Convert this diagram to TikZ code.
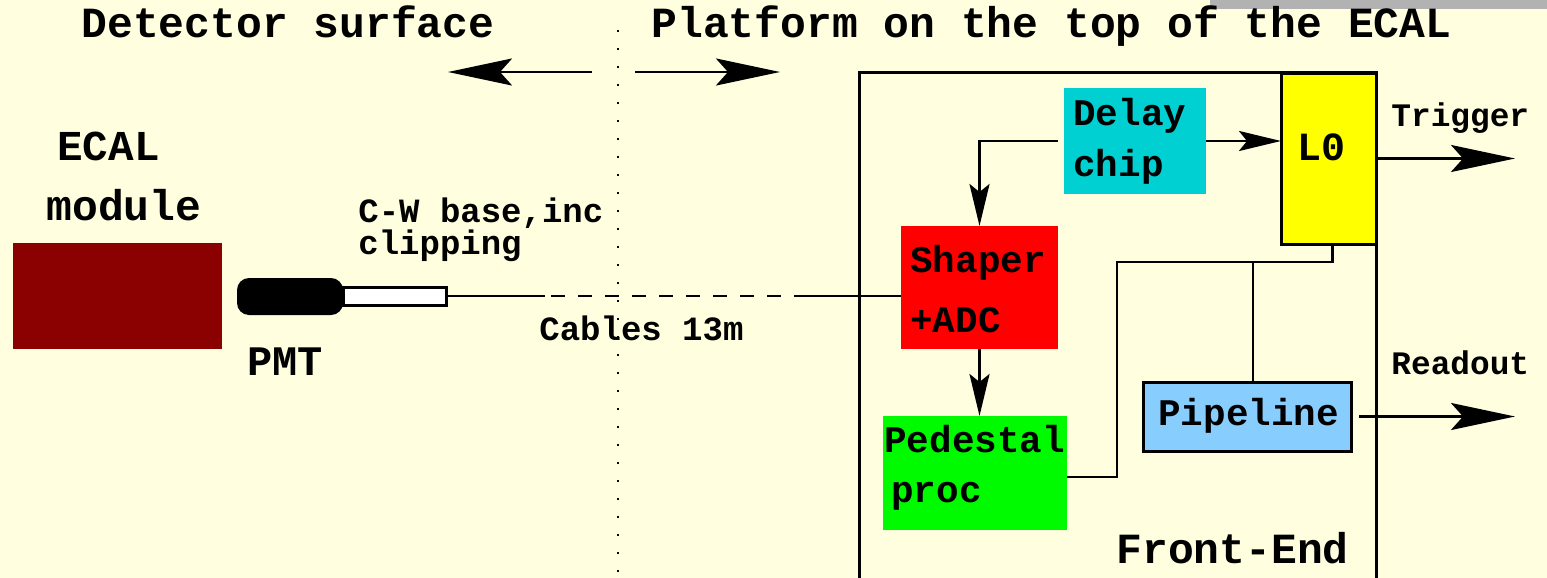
\documentclass[tikz,border=0pt]{standalone}
\usepackage{fontspec}
\setmonofont{Liberation Mono}
\usetikzlibrary{arrows.meta}
\definecolor{bg}{RGB}{255,255,224}
\definecolor{ecalred}{RGB}{139,0,0}
\definecolor{delaycol}{RGB}{0,208,210}
\definecolor{shapercol}{RGB}{255,0,0}
\definecolor{pedcol}{RGB}{0,250,0}
\definecolor{l0col}{RGB}{255,255,0}
\definecolor{pipecol}{RGB}{135,206,255}
\definecolor{barcol}{RGB}{178,178,178}
\tikzset{
  lbl/.style={font=\ttfamily\bfseries\fontsize{#1}{#1}\selectfont, inner sep=0pt, anchor=base west},
  fillbox/.style={draw=none, inner sep=0pt, outer sep=0pt},
  linebox/.style={draw=black, line width=1.5pt, inner sep=0pt, outer sep=0pt},
  wire/.style={line width=1.4pt, black},
  bigarrow/.style={wire, -{Stealth[length=32pt,width=13.5pt,inset=6pt]}},
  smallarrow/.style={wire, -{Stealth[length=21pt,width=10pt,inset=4pt]}},
}
\begin{document}
\begin{tikzpicture}[x=0.5pt,y=-0.5pt]
\clip (0,0) rectangle (1547,578);
\fill[bg] (0,0) rectangle (1547,578);
\fill[barcol] (1210,0) rectangle (1547,9);

% headings
\node[lbl=21.5] (hdet) at (81,38) {Detector surface};
\node[lbl=21.5] (hplat) at (651,38) {Platform on the top of the ECAL};

% dotted divider
\coordinate (d1) at (618,30);
\coordinate (d2) at (618,578);
\draw[line width=1pt, dash pattern=on 1pt off 8pt] (d1) -- (d2);

% direction arrows
\coordinate (a1) at (592,72);
\coordinate (a2) at (448,72);
\coordinate (b1) at (635,72);
\coordinate (b2) at (780,72);
\draw[bigarrow] (a1) -- (a2);
\draw[bigarrow] (b1) -- (b2);

% ECAL module
\node[fillbox, fill=ecalred, minimum width=104.5pt, minimum height=53pt] (ecal) at (117.5,296) {};
\node[lbl=21.3] (tecal) at (57,160) {ECAL};
\node[lbl=21.5] (tmod) at (46,220) {module};

% PMT
\node[fillbox, fill=black, rounded corners=6pt, minimum width=53pt, minimum height=18.5pt] (pmt) at (290,296.5) {};
\node[linebox, fill=white, minimum width=51.5pt, minimum height=9pt] (tube) at (394.5,296) {};
\node[lbl=21] (tpmt) at (247,375) {PMT};
\node[lbl=17] (tcw) at (358,222) {C-W base,inc};
\node[lbl=17] (tclip) at (358,254) {clipping};
\node[lbl=17] (tcab) at (539,340) {Cables 13m};

% Front-End frame
\node[linebox, minimum width=258.5pt, minimum height=270pt] (fe) at (1117.5,342) {};
\node[lbl=21.5] (tfe) at (1116,563) {Front-End};

% boxes
\node[fillbox, fill=delaycol, minimum width=71pt, minimum height=53pt] (delay) at (1135,141) {};
\node[lbl=18.8] (tdelay) at (1073,125) {Delay};
\node[lbl=18.8] (tchip) at (1073,176) {chip};

\node[linebox, fill=l0col, minimum width=47.5pt, minimum height=85.5pt] (l0) at (1328.5,158.5) {};
\node[lbl=20] (tl0) at (1297,160) {L0};

\node[fillbox, fill=shapercol, minimum width=78.5pt, minimum height=61.5pt] (shaper) at (979.5,287.5) {};
\node[lbl=18.8] (tshap) at (910,272) {Shaper};
\node[lbl=18.8] (tadc) at (910,332) {+ADC};

\node[fillbox, fill=pedcol, minimum width=92pt, minimum height=57pt] (ped) at (975,473) {};
\node[lbl=18.8] (tped) at (884,452) {Pedestal};
\node[lbl=18.8] (tproc) at (891,502) {proc};

\node[linebox, fill=pipecol, minimum width=104pt, minimum height=34.5pt] (pipe) at (1247,416.5) {};
\node[lbl=18.8] (tpipe) at (1158,425) {Pipeline};

\node[lbl=16.4] (ttrig) at (1391,126) {Trigger};
\node[lbl=16.4] (tread) at (1391,374) {Readout};

% cable
\coordinate (c1) at (545,296);
\coordinate (c2) at (800,296);
\draw[wire] (tube.east) -- (c1);
\draw[wire, dash pattern=on 7pt off 6.5pt, dash phase=-3pt] (c1) -- (c2);
\draw[wire] (c2) -- (shaper.west |- c2);

% signal connectors
\draw[smallarrow] (delay.east) -- (delay.east -| l0.west);
\draw[smallarrow] ([xshift=-3pt]delay.west) -| (shaper.north);
\draw[smallarrow] (shaper.south) -- (shaper.south |- ped.north);
\coordinate (bus) at (1117,262);
\coordinate (pedout) at (1067,477);
\draw[wire] (pedout) -- (pedout -| bus) -- (bus) -| ([xshift=2pt]l0.south);
\draw[wire] ([xshift=3pt]pipe.north) -- ([xshift=3pt]pipe.north |- bus);

\coordinate (out) at (1515,158);
\draw[bigarrow] (l0.east) -- (l0.east -| out);
\draw[bigarrow] ([xshift=4pt]pipe.east) -- (pipe.east -| out);
\end{tikzpicture}
\end{document}
